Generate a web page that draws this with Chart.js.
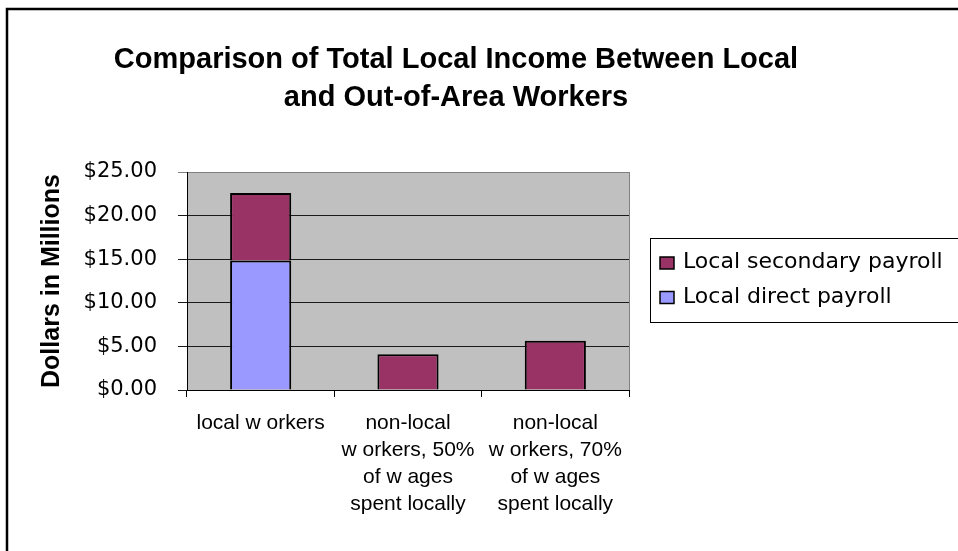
<!DOCTYPE html>
<html>
<head>
<meta charset="utf-8">
<title>Comparison of Total Local Income</title>
<script src="https://cdn.jsdelivr.net/npm/chart.js@4.4.1/dist/chart.umd.min.js"></script>
<style>
  body { margin: 0; background: #fff; }
  canvas { display: block; }
</style>
</head>
<body>
<canvas id="chart" width="958" height="551"></canvas>
<script>
// data (millions of dollars)
const categories = [
  ["local w orkers"],
  ["non-local", "w orkers, 50%", "of w ages", "spent locally"],
  ["non-local", "w orkers, 70%", "of w ages", "spent locally"],
];
const directPayroll = [14.85, null, null];
const secondaryPayroll = [7.75, 4.1, 5.65];
const titleLines = ["Comparison of Total Local Income Between Local", "and Out-of-Area Workers"];
const yAxisTitle = "Dollars in Millions";

const sans = '"Liberation Sans", Arial, sans-serif';
const wide = '"DejaVu Sans", sans-serif';

// grey plot area, outer frame, title and boxed legend
const decor = {
  id: "decor",
  beforeDraw(chart) {
    const ctx = chart.ctx;
    const a = chart.chartArea;
    ctx.save();
    ctx.fillStyle = "#c0c0c0";
    ctx.fillRect(a.left, a.top, a.right - a.left, a.bottom - a.top);
    ctx.strokeStyle = "#808080";
    ctx.lineWidth = 1;
    ctx.beginPath();
    ctx.moveTo(Math.round(a.right) + 0.5, a.top);
    ctx.lineTo(Math.round(a.right) + 0.5, a.bottom);
    ctx.stroke();
    ctx.restore();
  },
  afterDraw(chart) {
    const ctx = chart.ctx;
    ctx.save();
    // frame of the whole chart (runs off the right and bottom)
    ctx.strokeStyle = "#000";
    ctx.lineWidth = 2.5;
    ctx.strokeRect(7, 9, 980, 600);

    // title
    ctx.fillStyle = "#000";
    ctx.font = "bold 29px " + sans;
    ctx.textAlign = "center";
    ctx.textBaseline = "alphabetic";
    ctx.fillText(titleLines[0], 456, 68);
    ctx.fillText(titleLines[1], 456, 106);

    // legend, secondary first
    ctx.lineWidth = 1;
    ctx.strokeStyle = "#000";
    ctx.strokeRect(650.5, 238.5, 330, 84);
    const items = chart.data.datasets.slice().reverse();
    ctx.font = "22px " + wide;
    ctx.textAlign = "left";
    items.forEach(function (ds, i) {
      const y = 257 + i * 34.5;
      ctx.fillStyle = ds.backgroundColor;
      ctx.fillRect(660, y, 14, 12);
      ctx.lineWidth = 1.5;
      ctx.strokeRect(660, y, 14, 12);
      ctx.fillStyle = "#000";
      ctx.fillText(ds.label, 683, y + 11);
    });
    ctx.restore();
  },
};

new Chart(document.getElementById("chart"), {
  type: "bar",
  data: {
    labels: categories,
    datasets: [
      {
        label: "Local direct payroll",
        data: directPayroll,
        backgroundColor: "#9999ff",
        borderColor: "#000",
        borderWidth: 2,
      },
      {
        label: "Local secondary payroll",
        data: secondaryPayroll,
        backgroundColor: "#993366",
        borderColor: "#000",
        borderWidth: 2,
      },
    ],
  },
  options: {
    responsive: false,
    animation: false,
    devicePixelRatio: 1,
    barPercentage: 0.415,
    categoryPercentage: 1,
    layout: { padding: { top: 172, right: 329, bottom: 0, left: 0 } },
    plugins: {
      legend: { display: false },
      title: { display: false },
      tooltip: { enabled: false },
    },
    scales: {
      x: {
        stacked: true,
        afterFit(scale) { scale.height = 161; },
        border: { color: "#000", width: 1 },
        grid: { offset: true, drawOnChartArea: false, tickLength: 7, color: "#000" },
        ticks: {
          color: "#000",
          padding: 12.5,
          maxRotation: 0,
          autoSkip: false,
          font: { family: sans, size: 21, lineHeight: "27px" },
        },
      },
      y: {
        stacked: true,
        min: 0,
        max: 25,
        afterFit(scale) { scale.width = 187; },
        border: { color: "#000", width: 1 },
        grid: {
          tickLength: 9,
          color: function (c) { return c.tick && c.tick.value === 25 ? "#808080" : "#1a1a1a"; },
        },
        ticks: {
          stepSize: 5,
          color: "#000",
          padding: 21,
          font: { family: wide, size: 21 },
          callback: function (v) { return "$" + v.toFixed(2); },
        },
        title: {
          display: true,
          text: yAxisTitle,
          color: "#000",
          padding: { top: 37, bottom: 0 },
          font: { family: sans, size: 25, weight: "bold", lineHeight: 1.2 },
        },
      },
    },
  },
  plugins: [decor],
});
</script>
</body>
</html>
